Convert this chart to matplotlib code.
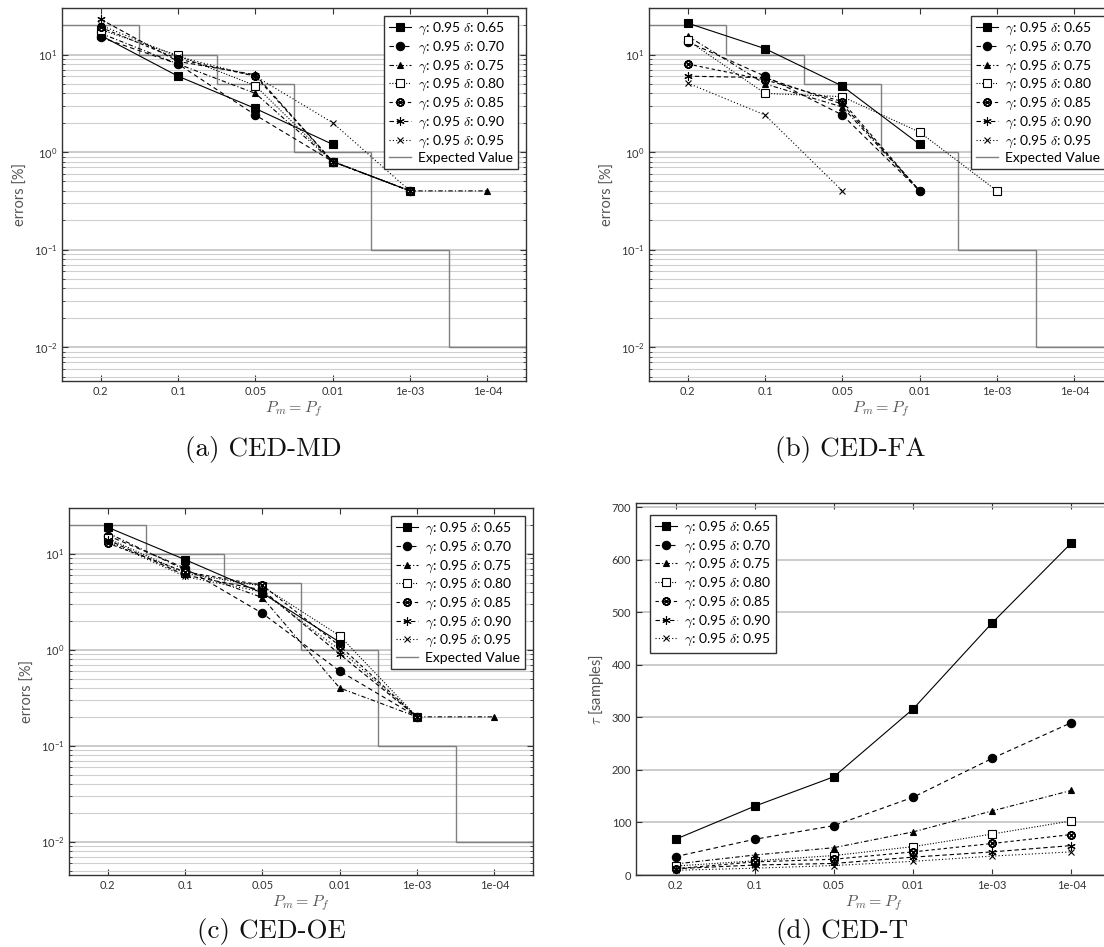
import numpy as np
import matplotlib
matplotlib.use("Agg")
import matplotlib.pyplot as plt
from matplotlib.ticker import LogLocator, NullFormatter, MultipleLocator

plt.rcParams['font.family'] = ['Lato', 'DejaVu Sans']
plt.rcParams['mathtext.fontset'] = 'cm'

# x categories (P_m = P_f)
categories = ['0.2', '0.1', '0.05', '0.01', '1e-03', '1e-04']
deltas = ['0.65', '0.70', '0.75', '0.80', '0.85', '0.90', '0.95']
expected = [20, 10, 5, 1, 0.1, 0.01]

nan = np.nan
# CED-MD errors [%]
md = [
    [15.7, 6.0, 2.8, 1.2, nan, nan],
    [15.0, 8.0, 2.4, 0.8, 0.4, nan],
    [16.5, 8.0, 4.0, 0.8, 0.4, 0.4],
    [18.0, 9.8, 4.8, 0.8, 0.4, nan],
    [19.0, 9.0, 6.0, 0.8, 0.4, nan],
    [23.0, 8.5, 6.2, 0.8, 0.4, nan],
    [20.0, 9.5, 6.0, 2.0, 0.4, nan],
]
# CED-FA errors [%]
fa = [
    [21.0, 11.5, 4.75, 1.2, nan, nan],
    [13.5, 6.0, 2.4, 0.4, nan, nan],
    [15.5, 5.0, 2.9, 0.4, nan, nan],
    [14.0, 4.0, 3.7, 1.6, 0.4, nan],
    [8.0, 5.5, 3.3, 0.4, nan, nan],
    [6.0, 5.8, 3.1, 0.4, nan, nan],
    [5.1, 2.4, 0.4, nan, nan, nan],
]
# CED-OE errors [%]
oe = [
    [18.9, 8.7, 3.9, 1.2, nan, nan],
    [15.5, 7.1, 2.4, 0.6, 0.2, nan],
    [16.5, 6.8, 3.5, 0.4, 0.2, 0.2],
    [14.5, 6.3, 4.6, 1.4, 0.2, nan],
    [12.9, 6.5, 4.7, 1.1, 0.2, nan],
    [14.0, 6.0, 4.2, 0.9, 0.2, nan],
    [13.5, 5.8, 4.0, 1.0, 0.2, nan],
]
# CED-T tau [samples]
tau = [
    [68, 131, 187, 316, 480, 632],
    [35, 68, 94, 148, 222, 290],
    [21, 38, 52, 82, 122, 161],
    [17, 27, 37, 54, 78, 103],
    [12, 25, 30, 44, 60, 77],
    [12, 19, 22, 34, 44, 56],
    [9, 13, 18, 26, 36, 44],
]

styles = [
    dict(ls='-', marker='s', ms=6, mfc='k'),
    dict(ls=(0, (4, 3)), marker='o', ms=6, mfc='k'),
    dict(ls=(0, (4, 2, 1, 2)), marker='^', ms=5, mfc='k'),
    dict(ls=(0, (1, 1.5)), marker='s', ms=5.5, mfc='white'),
    dict(ls=(0, (3, 2.5)), marker=r'$\otimes$', ms=5.5, mfc='k'),
    dict(ls=(0, (4, 2.5)), marker=(6, 2, 0), ms=6, mfc='k'),
    dict(ls=(0, (1, 2)), marker='x', ms=4, mfc='k'),
]

x = np.arange(len(categories))
W, H = 1104, 947
fig = plt.figure(figsize=(W / 100, H / 100), dpi=100)


def px(l, t, w, h):
    return [l / W, 1 - (t + h) / H, w / W, h / H]


def style_axes(ax):
    for s in ax.spines.values():
        s.set_color('#333333')
        s.set_linewidth(1.0)
    ax.set_xticks(x)
    ax.set_xticklabels(categories)
    ax.set_xlim(-0.5, 5.5)
    ax.tick_params(which='both', direction='in', top=True, right=True,
                   labelsize=8, labelcolor='#333333', color='#333333')
    ax.tick_params(which='major', length=4, width=0.8)
    ax.tick_params(which='minor', length=2, width=0.6)
    ax.set_xlabel(r'$P_m = P_f$', fontsize=11.5, color='#555555', labelpad=2)


def add_legend(ax, **kw):
    ax.legend(borderaxespad=0, fontsize=10, frameon=True, fancybox=False,
              edgecolor='#333333', framealpha=1, handlelength=1.6,
              handletextpad=0.5, labelspacing=0.18, borderpad=0.35, **kw)


def error_panel(ax, data):
    ax.set_yscale('log')
    ax.set_ylim(0.0045, 30)
    ax.yaxis.set_minor_locator(LogLocator(base=10, subs=np.arange(2, 10)))
    ax.yaxis.set_minor_formatter(NullFormatter())
    ax.grid(True, axis='y', which='major', color='#bdbdbd', lw=1.1)
    ax.grid(True, axis='y', which='minor', color='#cfcfcf', lw=0.8)
    ax.set_axisbelow(True)
    for vals, d, st in zip(data, deltas, styles):
        ax.plot(x, vals, color='k', lw=0.8, mec='k', mew=0.8,
                label=r'$\gamma$: 0.95 $\delta$: ' + d, **st)
    ax.stairs(expected, np.arange(len(expected) + 1) - 0.5, baseline=None,
              color='#808080', lw=1.0, label='Expected Value')
    style_axes(ax)
    ax.set_ylabel('errors [%]', fontsize=10.5, color='#555555')
    add_legend(ax, loc='upper right', bbox_to_anchor=(0.982, 0.978))


ax_a = fig.add_axes(px(62, 8, 464, 373))
error_panel(ax_a, md)
ax_b = fig.add_axes(px(649, 8, 464, 373))
error_panel(ax_b, fa)
ax_c = fig.add_axes(px(69, 508, 464, 367))
error_panel(ax_c, oe)

ax_d = fig.add_axes(px(636, 503, 475, 372))
for vals, d, st in zip(tau, deltas, styles):
    ax_d.plot(x, vals, color='k', lw=0.8, mec='k', mew=0.8,
              label=r'$\gamma$: 0.95 $\delta$: ' + d, **st)
ax_d.set_ylim(0, 708)
ax_d.yaxis.set_major_locator(MultipleLocator(100))
ax_d.grid(True, axis='y', which='major', color='#bdbdbd', lw=1.1)
ax_d.set_axisbelow(True)
style_axes(ax_d)
ax_d.set_ylabel(r'$\tau$ [samples]', fontsize=10.5, color='#555555')
add_legend(ax_d, loc='upper left', bbox_to_anchor=(0.03, 0.968))

captions = ['(a) CED-MD', '(b) CED-FA', '(c) CED-OE', '(d) CED-T']
cap_pos = [(263, 449), (850, 449), (271, 931), (842, 931)]
for c, (cx, cy) in zip(captions, cap_pos):
    fig.text(cx / W, 1 - cy / H, c, fontfamily='cmr10', fontsize=19.5,
             ha='center', va='center', color='#111111')

fig.savefig('out.png', dpi=100)
